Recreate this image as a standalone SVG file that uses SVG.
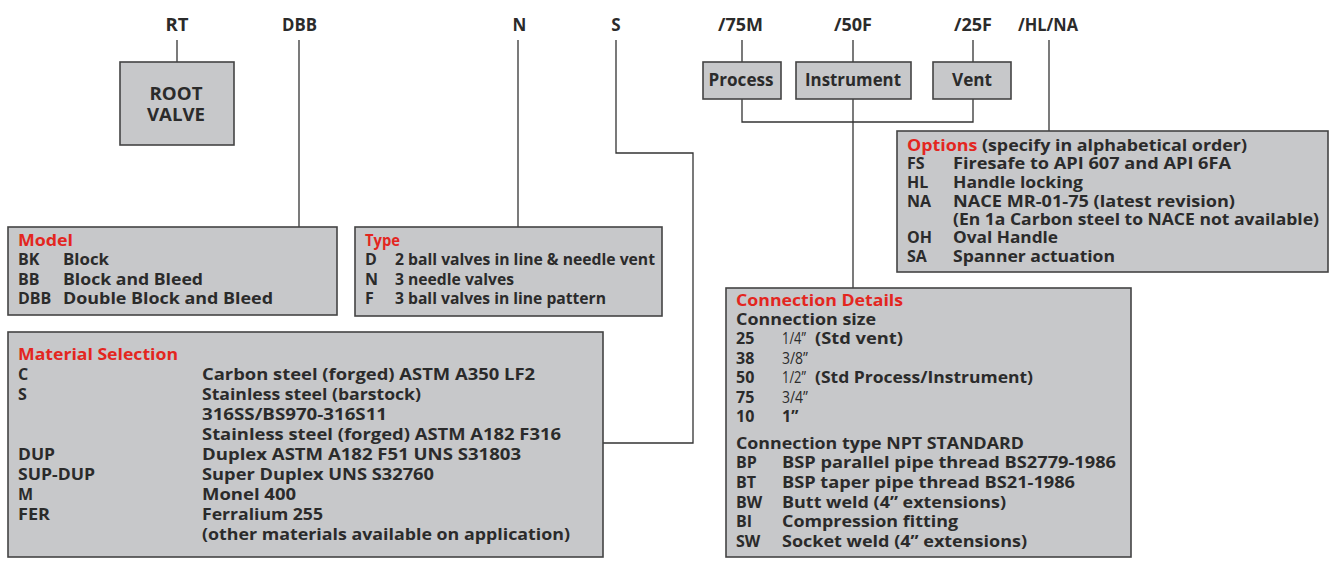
<svg xmlns="http://www.w3.org/2000/svg" width="1335" height="563" viewBox="0 0 1335 563">
<style>
text{font-family:"Open Sans","Liberation Sans",sans-serif;font-weight:700;fill:#2b2b2b;font-size:16px}
.h{font-size:17px;text-anchor:middle}
.r{fill:#e3261f}
.box{fill:#c7c8ca;stroke:#444;stroke-width:1.6}
.ln{fill:none;stroke:#333;stroke-width:1.3}
.fr{font-family:"Open Sans","Liberation Sans",sans-serif;font-weight:500;font-size:16px}
</style>
<rect width="1335" height="563" fill="#fff"/>
<g id="header">
<text class="h" x="177" y="31" textLength="23" lengthAdjust="spacingAndGlyphs">RT</text>
<text class="h" x="299.5" y="31" textLength="35" lengthAdjust="spacingAndGlyphs">DBB</text>
<text class="h" x="519.5" y="31">N</text>
<text class="h" x="616" y="31">S</text>
<text class="h" x="740.5" y="31" textLength="45" lengthAdjust="spacingAndGlyphs">/75M</text>
<text class="h" x="853" y="31" textLength="38" lengthAdjust="spacingAndGlyphs">/50F</text>
<text class="h" x="973" y="31" textLength="38" lengthAdjust="spacingAndGlyphs">/25F</text>
<text class="h" x="1048" y="31" textLength="60" lengthAdjust="spacingAndGlyphs">/HL/NA</text>
</g>
<g id="connectors">
<path class="ln" d="M177 40V62"/>
<path class="ln" d="M299 40V227"/>
<path class="ln" d="M518 40V227"/>
<path class="ln" d="M616 40V153H693V443H603"/>
<path class="ln" d="M742 40V62M853 40V62M973 40V62"/>
<path class="ln" d="M742 99V122H973V99"/>
<path class="ln" d="M853 99V288"/>
<path class="ln" d="M1049 40V131"/>
</g>
<g id="root">
<rect class="box" x="120" y="62" width="114" height="83"/>
<text class="h" x="176" y="100" style="font-size:18px" textLength="53" lengthAdjust="spacingAndGlyphs">ROOT</text>
<text class="h" x="176" y="121" style="font-size:18px" textLength="58" lengthAdjust="spacingAndGlyphs">VALVE</text>
</g>
<g id="process">
<rect class="box" x="703" y="62" width="78" height="37"/>
<text class="h" x="741" y="86" textLength="65" lengthAdjust="spacingAndGlyphs">Process</text>
</g>
<g id="instrument">
<rect class="box" x="796" y="62" width="115" height="37"/>
<text class="h" x="853" y="86" textLength="96" lengthAdjust="spacingAndGlyphs">Instrument</text>
</g>
<g id="vent">
<rect class="box" x="933" y="62" width="78" height="37"/>
<text class="h" x="972" y="86" textLength="40" lengthAdjust="spacingAndGlyphs">Vent</text>
</g>
<g id="model">
<rect class="box" x="8" y="227" width="329" height="88"/>
<text class="r" x="18" y="246" textLength="55" lengthAdjust="spacingAndGlyphs">Model</text>
<text x="18" y="265">BK</text><text x="63" y="265" textLength="46" lengthAdjust="spacingAndGlyphs">Block</text>
<text x="18" y="285">BB</text><text x="63" y="285" textLength="140" lengthAdjust="spacingAndGlyphs">Block and Bleed</text>
<text x="18" y="304">DBB</text><text x="63" y="304" textLength="210" lengthAdjust="spacingAndGlyphs">Double Block and Bleed</text>
</g>
<g id="type">
<rect class="box" x="355" y="227" width="307" height="89"/>
<text class="r" x="365" y="246" textLength="35" lengthAdjust="spacingAndGlyphs">Type</text>
<text x="365" y="265">D</text><text x="395" y="265" textLength="260" lengthAdjust="spacingAndGlyphs">2 ball valves in line &amp; needle vent</text>
<text x="365" y="285">N</text><text x="395" y="285" textLength="119" lengthAdjust="spacingAndGlyphs">3 needle valves</text>
<text x="365" y="304">F</text><text x="395" y="304" textLength="211" lengthAdjust="spacingAndGlyphs">3 ball valves in line pattern</text>
</g>
<g id="material">
<rect class="box" x="8" y="332" width="595" height="225"/>
<text class="r" x="18" y="360" textLength="160" lengthAdjust="spacingAndGlyphs">Material Selection</text>
<text x="18" y="380">C</text><text x="202" y="380" textLength="333" lengthAdjust="spacingAndGlyphs">Carbon steel (forged) ASTM A350 LF2</text>
<text x="18" y="400">S</text><text x="202" y="400" textLength="219" lengthAdjust="spacingAndGlyphs">Stainless steel (barstock)</text>
<text x="202" y="420" textLength="185" lengthAdjust="spacingAndGlyphs">316SS/BS970-316S11</text>
<text x="202" y="440" textLength="359" lengthAdjust="spacingAndGlyphs">Stainless steel (forged) ASTM A182 F316</text>
<text x="18" y="460" textLength="37" lengthAdjust="spacingAndGlyphs">DUP</text><text x="202" y="460" textLength="319" lengthAdjust="spacingAndGlyphs">Duplex ASTM A182 F51 UNS S31803</text>
<text x="18" y="480" textLength="77" lengthAdjust="spacingAndGlyphs">SUP-DUP</text><text x="202" y="480" textLength="232" lengthAdjust="spacingAndGlyphs">Super Duplex UNS S32760</text>
<text x="18" y="500">M</text><text x="202" y="500" textLength="94" lengthAdjust="spacingAndGlyphs">Monel 400</text>
<text x="18" y="520" textLength="32" lengthAdjust="spacingAndGlyphs">FER</text><text x="202" y="520" textLength="121" lengthAdjust="spacingAndGlyphs">Ferralium 255</text>
<text x="202" y="540" textLength="368" lengthAdjust="spacingAndGlyphs">(other materials available on application)</text>
</g>
<g id="options">
<rect class="box" x="897" y="131" width="431" height="141"/>
<text x="907" y="151" textLength="340" lengthAdjust="spacingAndGlyphs"><tspan class="r">Options</tspan> (specify in alphabetical order)</text>
<text x="907" y="169">FS</text><text x="953" y="169" textLength="278" lengthAdjust="spacingAndGlyphs">Firesafe to API 607 and API 6FA</text>
<text x="907" y="188">HL</text><text x="953" y="188" textLength="130" lengthAdjust="spacingAndGlyphs">Handle locking</text>
<text x="907" y="207">NA</text><text x="953" y="207" textLength="282" lengthAdjust="spacingAndGlyphs">NACE MR-01-75 (latest revision)</text>
<text x="953" y="225" textLength="366" lengthAdjust="spacingAndGlyphs">(En 1a Carbon steel to NACE not available)</text>
<text x="907" y="243">OH</text><text x="953" y="243" textLength="105" lengthAdjust="spacingAndGlyphs">Oval Handle</text>
<text x="907" y="262">SA</text><text x="953" y="262" textLength="162" lengthAdjust="spacingAndGlyphs">Spanner actuation</text>
</g>
<g id="connection">
<rect class="box" x="726" y="288" width="405" height="269"/>
<text class="r" x="736" y="306" textLength="167" lengthAdjust="spacingAndGlyphs">Connection Details</text>
<text x="736" y="325" textLength="140" lengthAdjust="spacingAndGlyphs">Connection size</text>
<text x="736" y="344">25</text><text class="fr" x="782" y="344" textLength="24" lengthAdjust="spacingAndGlyphs">1/4”</text><text x="815" y="344" textLength="88" lengthAdjust="spacingAndGlyphs">(Std vent)</text>
<text x="736" y="364">38</text><text class="fr" x="782" y="364" textLength="26" lengthAdjust="spacingAndGlyphs">3/8”</text>
<text x="736" y="383">50</text><text class="fr" x="782" y="383" textLength="24" lengthAdjust="spacingAndGlyphs">1/2”</text><text x="815" y="383" textLength="218" lengthAdjust="spacingAndGlyphs">(Std Process/Instrument)</text>
<text x="736" y="403">75</text><text class="fr" x="782" y="403" textLength="26" lengthAdjust="spacingAndGlyphs">3/4”</text>
<text x="736" y="422">10</text><text x="782" y="422">1”</text>
<text x="736" y="449" textLength="288" lengthAdjust="spacingAndGlyphs">Connection type NPT STANDARD</text>
<text x="736" y="468">BP</text><text x="782" y="468" textLength="334" lengthAdjust="spacingAndGlyphs">BSP parallel pipe thread BS2779-1986</text>
<text x="736" y="488">BT</text><text x="782" y="488" textLength="293" lengthAdjust="spacingAndGlyphs">BSP taper pipe thread BS21-1986</text>
<text x="736" y="508">BW</text><text x="782" y="508" textLength="224" lengthAdjust="spacingAndGlyphs">Butt weld (4” extensions)</text>
<text x="736" y="527">BI</text><text x="782" y="527" textLength="176" lengthAdjust="spacingAndGlyphs">Compression fitting</text>
<text x="736" y="547">SW</text><text x="782" y="547" textLength="245" lengthAdjust="spacingAndGlyphs">Socket weld (4” extensions)</text>
</g>
</svg>
